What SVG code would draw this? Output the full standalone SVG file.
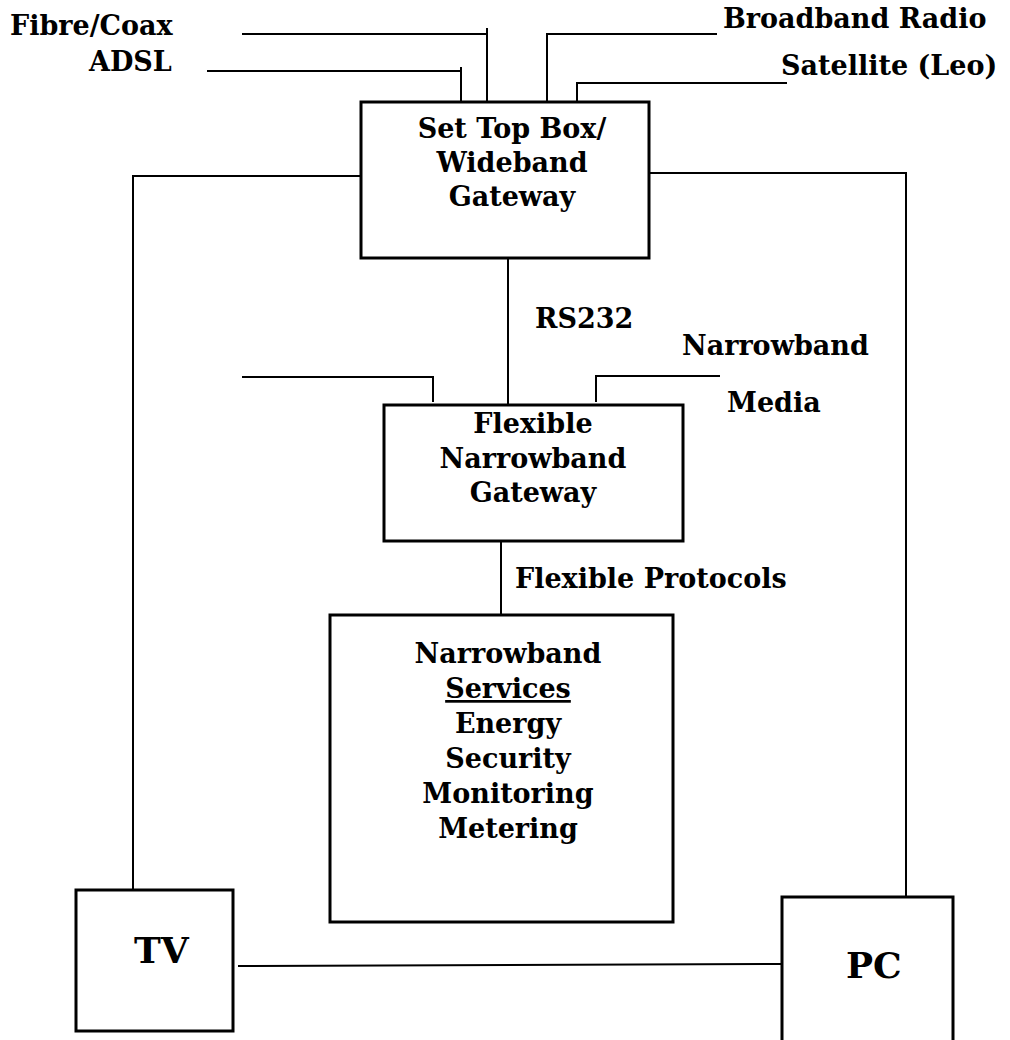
<svg xmlns="http://www.w3.org/2000/svg" width="1010" height="1040" viewBox="0 0 1010 1040">
<style>
text{font-family:"DejaVu Serif","Liberation Serif",serif;font-weight:bold;font-size:27px;fill:#000}
.c{text-anchor:middle}
.box{fill:#fff;stroke:#000;stroke-width:3}
.ln{fill:none;stroke:#000;stroke-width:2}
.big{font-size:36px}
</style>
<rect width="1010" height="1040" fill="#fff"/>
<g id="connectors">
<polyline class="ln" points="242,34 487,34 487,102"/>
<line class="ln" x1="487" y1="28" x2="487" y2="34"/>
<polyline class="ln" points="207,71 461,71 461,102"/>
<line class="ln" x1="461" y1="67" x2="461" y2="71"/>
<polyline class="ln" points="717,34 547,34 547,102"/>
<polyline class="ln" points="787,83 577,83 577,102"/>
<polyline class="ln" points="361,176 133,176 133,890"/>
<polyline class="ln" points="649,173 906,173 906,897"/>
<line class="ln" x1="508" y1="258" x2="508" y2="405"/>
<polyline class="ln" points="242,377 433,377 433,402"/>
<polyline class="ln" points="720,376 596,376 596,402"/>
<line class="ln" x1="501" y1="541" x2="501" y2="615"/>
<line class="ln" x1="238" y1="966" x2="782" y2="964"/>
</g>
<g id="labels">
<text x="10" y="35">Fibre/Coax</text>
<text x="89" y="71">ADSL</text>
<text x="723" y="28">Broadband Radio</text>
<text x="781" y="75">Satellite (Leo)</text>
<text x="535" y="328">RS232</text>
<text x="682" y="355">Narrowband</text>
<text x="727" y="412">Media</text>
<text x="515" y="588">Flexible Protocols</text>
</g>
<g id="set-top-box">
<rect class="box" x="361" y="102" width="288" height="156"/>
<text class="c" x="512" y="138">Set Top Box/</text>
<text class="c" x="512" y="172">Wideband</text>
<text class="c" x="512" y="206">Gateway</text>
</g>
<g id="flexible-gateway">
<rect class="box" x="384" y="405" width="299" height="136"/>
<text class="c" x="533" y="433">Flexible</text>
<text class="c" x="533" y="468">Narrowband</text>
<text class="c" x="533" y="502">Gateway</text>
</g>
<g id="narrowband-services">
<rect class="box" x="330" y="615" width="343" height="307"/>
<text class="c" x="508" y="663">Narrowband</text>
<text class="c" x="508" y="698" text-decoration="underline">Services</text>
<text class="c" x="508" y="733">Energy</text>
<text class="c" x="508" y="768">Security</text>
<text class="c" x="508" y="803">Monitoring</text>
<text class="c" x="508" y="838">Metering</text>
</g>
<g id="tv">
<rect class="box" x="76" y="890" width="157" height="141"/>
<text class="big" x="134" y="963">TV</text>
</g>
<g id="pc">
<rect class="box" x="782" y="897" width="171" height="160"/>
<text class="big" x="846" y="978">PC</text>
</g>
</svg>
